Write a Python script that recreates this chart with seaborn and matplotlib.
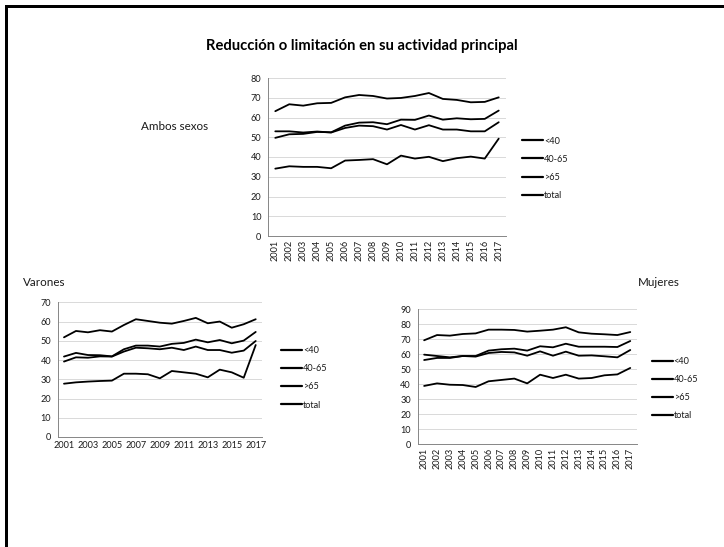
import matplotlib
matplotlib.use("Agg")
import matplotlib.pyplot as plt
from matplotlib.patches import Rectangle
import seaborn as sns
import pandas as pd

years = list(range(2001, 2018))
groups = ["<40", "40-65", ">65", "total"]

# Ambos sexos
ambos_menos40 = [34.1, 35.3, 35.0, 35.0, 34.3, 38.2, 38.5, 38.9, 36.3, 40.7, 39.2, 40.1, 37.9, 39.4, 40.2, 39.2, 49.3]
ambos_40_65 = [53.0, 53.0, 52.4, 52.9, 52.4, 54.7, 55.9, 55.6, 53.9, 56.2, 53.9, 56.1, 53.9, 53.9, 53.0, 53.0, 57.6]
ambos_mas65 = [63.2, 66.7, 66.0, 67.2, 67.4, 70.2, 71.4, 70.9, 69.6, 69.9, 70.9, 72.4, 69.4, 68.9, 67.7, 67.9, 70.2]
ambos_total = [49.7, 51.5, 51.7, 52.7, 52.5, 55.9, 57.4, 57.6, 56.6, 58.9, 58.8, 61.0, 58.9, 59.6, 59.1, 59.3, 63.5]

# Varones
var_menos40 = [27.7, 28.4, 28.8, 29.1, 29.3, 32.9, 32.9, 32.6, 30.5, 34.3, 33.6, 32.9, 31.0, 35.0, 33.6, 30.8, 47.8]
var_40_65 = [39.2, 41.4, 41.2, 41.9, 41.8, 44.4, 46.4, 46.1, 45.6, 46.4, 45.2, 47.0, 45.2, 45.2, 43.8, 44.9, 49.9]
var_mas65 = [51.8, 55.1, 54.4, 55.5, 54.8, 58.2, 61.2, 60.3, 59.4, 58.9, 60.3, 61.9, 59.1, 60.0, 56.8, 58.6, 61.2]
var_total = [41.8, 43.7, 42.6, 42.5, 41.9, 45.6, 47.5, 47.5, 47.0, 48.4, 48.9, 50.6, 49.2, 50.4, 48.7, 50.1, 54.6]

# Mujeres
muj_menos40 = [38.8, 40.5, 39.6, 39.4, 38.1, 41.9, 42.8, 43.7, 40.5, 46.3, 44.1, 46.3, 43.7, 44.1, 45.9, 46.5, 50.8]
muj_40_65 = [56.1, 57.5, 57.5, 58.8, 58.4, 60.8, 61.5, 61.2, 59.0, 61.9, 59.0, 61.7, 59.0, 59.2, 58.6, 57.9, 62.8]
muj_mas65 = [69.3, 72.8, 72.4, 73.5, 73.9, 76.4, 76.4, 76.2, 75.1, 75.7, 76.4, 78.0, 74.6, 73.7, 73.3, 72.8, 74.8]
muj_total = [59.7, 58.8, 57.9, 58.8, 58.8, 62.4, 63.3, 63.7, 62.4, 65.3, 64.6, 67.0, 65.0, 65.0, 65.0, 64.8, 68.8]

title = "Reducción o limitación en su actividad principal"

sns.set_theme(style="white")
plt.rcParams["font.family"] = ["Lato", "DejaVu Sans"]

W, H = 724, 547
fig = plt.figure(figsize=(W / 100, H / 100), dpi=100)
fig.patch.set_facecolor("white")


def frame(x0, y_top, x1, y_bot):
    return [x0 / W, 1 - y_bot / H, (x1 - x0) / W, (y_bot - y_top) / H]


def long_table(series):
    rows = []
    for g, vals in zip(groups, series):
        for i, v in enumerate(vals):
            rows.append({"pos": i, "grupo": g, "valor": v})
    return pd.DataFrame(rows)


AXIS_GREY = "#868686"
GRID_GREY = "#d9d9d9"
TXT = "#1a1a1a"
FS = 6.6


def panel(rect, series, ymax, rotate, step, legend_xy):
    ax = fig.add_axes(frame(*rect))
    df = long_table(series)
    sns.lineplot(data=df, x="pos", y="valor", hue="grupo", hue_order=groups,
                 palette=["black"] * 4, linewidth=1.3, legend=False, ax=ax)
    n = len(years)
    ax.set_xlim(-0.5, n - 0.5)
    ax.set_ylim(0, ymax)
    ax.set_yticks(range(0, ymax + 1, 10))
    major = list(range(0, n, step))
    ax.set_xticks(major)
    ax.set_xticklabels([str(years[i]) for i in major],
                       rotation=90 if rotate else 0, fontsize=FS, color=TXT)
    ax.set_xticks([i - 0.5 for i in range(n + 1)], minor=True)
    ax.tick_params(axis="x", which="major", length=0, pad=3)
    ax.tick_params(axis="x", which="minor", length=3, width=0.6, color=AXIS_GREY)
    ax.tick_params(axis="y", which="major", length=3, width=0.6, color=AXIS_GREY,
                   labelsize=FS, labelcolor=TXT, pad=2)
    ax.set_xlabel("")
    ax.set_ylabel("")
    ax.grid(axis="y", color=GRID_GREY, linewidth=0.7)
    ax.set_axisbelow(True)
    for s in ["top", "right"]:
        ax.spines[s].set_visible(False)
    for s in ["left", "bottom"]:
        ax.spines[s].set_color(AXIS_GREY)
        ax.spines[s].set_linewidth(0.7)
    lx, ly = legend_xy
    leg = ax.legend(ax.get_lines()[:4], groups, loc="upper left",
                    bbox_to_anchor=(lx / W, 1 - ly / H), bbox_transform=fig.transFigure,
                    frameon=False, fontsize=FS, handlelength=2.3, handletextpad=0.1,
                    labelspacing=1.0, borderpad=0, borderaxespad=0, labelcolor=TXT)
    for h in leg.get_lines():
        h.set_linewidth(1.6)
    return ax


panel((268.3, 78, 505.7, 236), [ambos_menos40, ambos_40_65, ambos_mas65, ambos_total],
      80, True, 1, (522, 136.5))
panel((58, 302.3, 261.7, 437), [var_menos40, var_40_65, var_mas65, var_total],
      70, False, 2, (281, 346))
panel((417.7, 309.3, 636.7, 444), [muj_menos40, muj_40_65, muj_mas65, muj_total],
      90, True, 1, (651.7, 357))

fig.text(362 / W, 1 - 46 / H, title, ha="center", va="center",
         fontsize=10.6, fontweight="bold", color="black")
fig.text(140.7 / W, 1 - 126 / H, "Ambos sexos", ha="left", va="center",
         fontsize=8.4, color=TXT)
fig.text(22.7 / W, 1 - 282.7 / H, "Varones", ha="left", va="center",
         fontsize=8.4, color=TXT)
fig.text(637.7 / W, 1 - 282.3 / H, "Mujeres", ha="left", va="center",
         fontsize=8.4, color=TXT)

# slide frame: top and left edges
fig.patches.append(Rectangle((5 / W, 0), 3 / W, 1 - 5 / H, transform=fig.transFigure,
                             facecolor="black", edgecolor="none"))
fig.patches.append(Rectangle((5 / W, 1 - 8 / H), 1 - 5 / W, 3 / H, transform=fig.transFigure,
                             facecolor="black", edgecolor="none"))

fig.savefig("out.png", dpi=100, facecolor="white")
